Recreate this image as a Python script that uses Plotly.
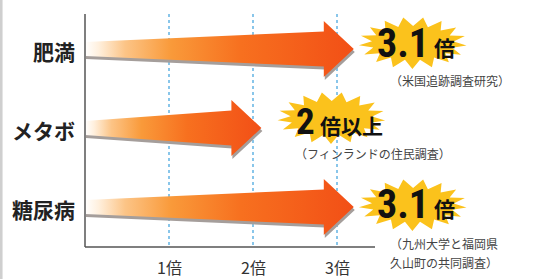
import numpy as np
import plotly.graph_objects as go

# ---------------- data ----------------
CATEGORIES = ["肥満", "メタボ", "糖尿病"]
RISK_VALUES = [3.1, 2.0, 3.1]
VALUE_LABELS = ["3.1", "2", "3.1"]
UNIT_LABELS = ["倍", "倍以上", "倍"]
SOURCE_NOTES = [
    ["（米国追跡調査研究）"],
    ["（フィンランドの住民調査）"],
    ["（九州大学と福岡県", "久山町の共同調査）"],
]
TICK_VALUES = [1, 2, 3]
TICK_LABELS = ["1倍", "2倍", "3倍"]

# ---------------- layout / style ----------------
W, H = 534, 279
X0_PX, PX_PER_X = 85, 84          # pixel of x=0, pixels per unit
ROW0_PX, PX_PER_ROW = 49, 79      # pixel of first row centre, pixels per row
AXIS_TOP_PX, AXIS_BOTTOM_PX, AXIS_RIGHT_PX = 14, 247, 375

def xd(px):  # pixel -> data x
    return (px - X0_PX) / PX_PER_X

def yd(py):  # pixel -> data y (rows)
    return (py - ROW0_PX) / PX_PER_ROW

def dx(p):
    return p / PX_PER_X

def dy(p):
    return p / PX_PER_ROW

TIP_OVERSHOOT = 0.1
HEAD_LEN_PX = 30
BODY_HALF_LEFT_PX, BODY_HALF_RIGHT_PX, HEAD_HALF_PX = 7, 17.5, 28
SHADOW_DX_PX, SHADOW_DY_PX = 1, 3

# per-row label placement (pixels), relative to arrow tip / star centre
LABEL_STYLE = [
    dict(star_dx=59, star_dy=-6, val_dx=18, val_dy=0, unit_dy=4, note_dx=-25, note_dy=37),
    dict(star_dx=70, star_dy=-10, val_dx=-14, val_dy=3, unit_dy=7, note_dx=-38, note_dy=35),
    dict(star_dx=59, star_dy=-2, val_dx=18, val_dy=-1, unit_dy=3, note_dx=-25, note_dy=38),
]
NOTE_LINE_PX = 19

JP = "Noto Sans CJK JP"
NUM_FONT = "Liberation Sans Narrow, Roboto Condensed, DejaVu Sans Condensed, Arial"

GRADIENT = [
    [0.0, "#ffffff"], [0.05, "#fff0de"], [0.15, "#fcc486"],
    [0.32, "#f99a3a"], [0.58, "#f7701f"], [1.0, "#f24f16"],
]

fig = go.Figure()

for i, (cat, val) in enumerate(zip(CATEGORIES, RISK_VALUES)):
    y = i
    tip = val + TIP_OVERSHOOT
    base = tip - dx(HEAD_LEN_PX)
    h0, h1, hh = dy(BODY_HALF_LEFT_PX), dy(BODY_HALF_RIGHT_PX), dy(HEAD_HALF_PX)
    px = [0, base, base, tip, base, base, 0, 0]
    py = [y - h0, y - h1, y - hh, y, y + hh, y + h1, y + h0, y - h0]
    # shadow
    fig.add_trace(go.Scatter(
        x=[p + dx(SHADOW_DX_PX) for p in px], y=[q + dy(SHADOW_DY_PX) for q in py],
        fill="toself", fillcolor="#a59e9b", mode="none", hoverinfo="skip", showlegend=False))
    # arrow
    fig.add_trace(go.Scatter(
        x=px, y=py, fill="toself", mode="none", hoverinfo="skip", showlegend=False,
        fillgradient=dict(type="horizontal", colorscale=GRADIENT, start=0, stop=tip)))

    st = LABEL_STYLE[i]
    cx = tip + dx(st["star_dx"])
    cy = y + dy(st["star_dy"])
    n = 17
    ang = np.linspace(0, 2 * np.pi, 2 * n + 1)
    r_x = np.where(np.arange(2 * n + 1) % 2 == 0, 54, 41)
    r_y = np.where(np.arange(2 * n + 1) % 2 == 0, 26, 17)
    sx = cx + dx(r_x * np.cos(ang + 0.1))
    sy = cy + dy(r_y * np.sin(ang + 0.1))
    fig.add_trace(go.Scatter(x=sx, y=sy, fill="toself", fillcolor="#fbc21c", mode="none",
                             hoverinfo="skip", showlegend=False))

    # value + unit
    fig.add_annotation(x=cx + dx(st["val_dx"]), y=cy + dy(st["val_dy"]), text="<b>%s</b>" % VALUE_LABELS[i],
                       xanchor="right", yanchor="middle", showarrow=False,
                       font=dict(family=NUM_FONT, size=40 if i != 1 else 37, color="#111111"))
    fig.add_annotation(x=cx + dx(st["val_dx"] + 1), y=cy + dy(st["unit_dy"]), text="<b>%s</b>" % UNIT_LABELS[i],
                       xanchor="left", yanchor="middle", showarrow=False,
                       font=dict(family=JP, size=21, color="#111111"))
    for k, line in enumerate(SOURCE_NOTES[i]):
        fig.add_annotation(x=cx + dx(st["note_dx"]), y=cy + dy(st["note_dy"] + k * NOTE_LINE_PX),
                           text=line, xanchor="left", yanchor="middle", showarrow=False,
                           font=dict(family=JP, size=12, color="#444444"))

    # category label
    fig.add_annotation(x=xd(77), y=y + dy(2), text="<b>%s</b>" % cat, xanchor="right", yanchor="middle",
                       showarrow=False, font=dict(family=JP, size=21, color="#222222"))

# grid lines + tick labels
for tv, tl in zip(TICK_VALUES, TICK_LABELS):
    fig.add_shape(type="line", x0=tv, x1=tv, y0=yd(AXIS_TOP_PX), y1=yd(AXIS_BOTTOM_PX),
                  line=dict(color="#63b4e4", width=1.5, dash="dot"), layer="below")
    fig.add_annotation(x=tv, y=yd(267), text=tl, showarrow=False, xanchor="center", yanchor="middle",
                       font=dict(family=JP, size=16, color="#333333"))

# axis lines
fig.add_shape(type="line", x0=0, x1=0, y0=yd(AXIS_TOP_PX), y1=yd(AXIS_BOTTOM_PX),
              line=dict(color="#555555", width=1.5), layer="above")
fig.add_shape(type="line", x0=0, x1=xd(AXIS_RIGHT_PX), y0=yd(AXIS_BOTTOM_PX), y1=yd(AXIS_BOTTOM_PX),
              line=dict(color="#555555", width=1.5), layer="above")
# light frame edge on left
fig.add_shape(type="line", xref="paper", yref="paper", x0=0.002, x1=0.002, y0=0, y1=1,
              line=dict(color="#cfcfcf", width=3))

fig.update_layout(
    width=W, height=H, margin=dict(l=0, r=0, t=0, b=0),
    paper_bgcolor="white", plot_bgcolor="white", showlegend=False,
    xaxis=dict(range=[xd(0), xd(W)], visible=False, fixedrange=True),
    yaxis=dict(range=[yd(H), yd(0)], visible=False, fixedrange=True),
)

fig.write_html("out.html", config={"displayModeBar": False},
               post_script="document.body.style.margin='0';document.body.style.overflow='hidden';")
